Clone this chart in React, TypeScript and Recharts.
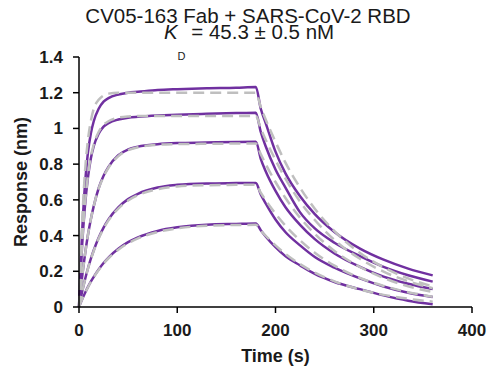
import { CartesianGrid, Label, Line, LineChart, XAxis, YAxis } from "recharts";

const PURPLE = "#7030a0";
const FIT_GRAY = "#bfbfbf";
const FONT = "'Liberation Sans', Arial, sans-serif";

// time points (s): association 0-180, dissociation 180-360
const times = [
  0, 3, 6, 9, 12, 15, 20, 25, 30, 40, 50, 60, 80, 100, 130, 160, 180,
  185, 190, 200, 210, 225, 240, 260, 286, 310, 335, 360,
];

// measured traces, highest to lowest concentration
const trace1 = [
  0, 0.4, 0.68, 0.86, 0.97, 1.04, 1.11, 1.15, 1.17, 1.19, 1.2, 1.205, 1.215, 1.22, 1.225, 1.228, 1.232,
  1.11, 1.03, 0.87, 0.75, 0.62, 0.52, 0.42, 0.327, 0.265, 0.215, 0.177,
];
const trace2 = [
  0, 0.33, 0.56, 0.72, 0.83, 0.9, 0.97, 1.01, 1.03, 1.05, 1.06, 1.065, 1.072, 1.077, 1.082, 1.086, 1.088,
  0.98, 0.9, 0.77, 0.67, 0.53, 0.44, 0.36, 0.285, 0.225, 0.178, 0.142,
];
const trace3 = [
  0, 0.16, 0.29, 0.4, 0.49, 0.565, 0.665, 0.735, 0.785, 0.85, 0.882, 0.898, 0.912, 0.918, 0.921, 0.924, 0.925,
  0.83, 0.76, 0.65, 0.56, 0.46, 0.38, 0.3, 0.225, 0.17, 0.13, 0.1,
];
const trace4 = [
  0, 0.081, 0.151, 0.214, 0.269, 0.318, 0.388, 0.445, 0.491, 0.558, 0.604, 0.634, 0.669, 0.684, 0.692, 0.694, 0.695,
  0.63, 0.58, 0.49, 0.42, 0.345, 0.28, 0.22, 0.16, 0.115, 0.08, 0.056,
];
const trace5 = [
  0, 0.041, 0.077, 0.111, 0.142, 0.169, 0.21, 0.246, 0.277, 0.326, 0.363, 0.39, 0.426, 0.446, 0.461, 0.465, 0.467,
  0.43, 0.395, 0.335, 0.285, 0.233, 0.185, 0.14, 0.1, 0.065, 0.035, 0.015,
];

// global 1:1 fits
const fit1 = [
  0, 0.45, 0.75, 0.93, 1.04, 1.11, 1.16, 1.185, 1.195, 1.2, 1.2, 1.2, 1.2, 1.2, 1.2, 1.2, 1.2,
  1.12, 1.05, 0.925, 0.81, 0.668, 0.55, 0.425, 0.303, 0.222, 0.16, 0.115,
];
const fit2 = [
  0, 0.34, 0.57, 0.73, 0.84, 0.91, 0.98, 1.02, 1.04, 1.06, 1.067, 1.069, 1.07, 1.07, 1.07, 1.07, 1.07,
  1.0, 0.937, 0.823, 0.72, 0.59, 0.487, 0.375, 0.27, 0.198, 0.144, 0.105,
];
const fit3 = [
  0, 0.16, 0.29, 0.4, 0.49, 0.565, 0.663, 0.73, 0.78, 0.845, 0.878, 0.895, 0.908, 0.912, 0.914, 0.915, 0.915,
  0.856, 0.8, 0.7, 0.612, 0.5, 0.41, 0.314, 0.224, 0.163, 0.116, 0.084,
];
const fit4 = [
  0, 0.08, 0.15, 0.212, 0.266, 0.314, 0.383, 0.439, 0.485, 0.551, 0.596, 0.626, 0.66, 0.675, 0.682, 0.684, 0.685,
  0.64, 0.598, 0.523, 0.456, 0.373, 0.304, 0.232, 0.163, 0.118, 0.083, 0.058,
];
const fit5 = [
  0, 0.04, 0.076, 0.109, 0.14, 0.167, 0.207, 0.243, 0.273, 0.321, 0.357, 0.384, 0.42, 0.44, 0.455, 0.459, 0.46,
  0.428, 0.399, 0.345, 0.298, 0.24, 0.193, 0.144, 0.098, 0.068, 0.046, 0.03,
];

const xTicks = [0, 100, 200, 300, 400];
const yTicks = [0, 0.2, 0.4, 0.6, 0.8, 1, 1.2, 1.4];

const traces = [trace1, trace2, trace3, trace4, trace5];
const fits = [fit1, fit2, fit3, fit4, fit5];

const data = times.map((t, i) => {
  const row: Record<string, number> = { t };
  traces.forEach((s, k) => (row[`r${k}`] = s[i]));
  fits.forEach((s, k) => (row[`f${k}`] = s[i]));
  return row;
});

const tickStyle = { fontFamily: FONT, fontSize: 17, fontWeight: 700, fill: "#1a1a1a" };
const axisTitleStyle = { fontFamily: FONT, fontSize: 18, fontWeight: 700, fill: "#1a1a1a", textAnchor: "middle" as const };

export default function App() {
  return (
    <div style={{ position: "absolute", left: 0, top: 0, width: 492, height: 370, background: "#fff" }}>
      <svg width={492} height={70} style={{ position: "absolute", left: 0, top: 0 }}>
        <text x={248} y={23} textAnchor="middle" fontFamily={FONT} fontSize={20.5} fill="#1a1a1a">
          CV05-163 Fab + SARS-CoV-2 RBD
        </text>
        <text x={249} y={39} textAnchor="middle" fontFamily={FONT} fontSize={20.5} fill="#1a1a1a">
          <tspan fontStyle="italic">K</tspan>
          <tspan fontSize={11} dy={21}>D</tspan>
          <tspan dy={-21}> = 45.3 ± 0.5 nM</tspan>
        </text>
      </svg>
      <LineChart
        width={492}
        height={370}
        data={data}
        margin={{ top: 57, right: 20, bottom: 33, left: 19 }}
        style={{ position: "absolute", left: 0, top: 0 }}
      >
        <CartesianGrid horizontal={false} vertical={false} />
        <XAxis
          dataKey="t"
          type="number"
          domain={[0, 400]}
          ticks={xTicks}
          height={30}
          tickSize={6}
          tickMargin={11}
          tick={tickStyle}
          axisLine={{ stroke: "#000", strokeWidth: 1.5 }}
          tickLine={{ stroke: "#000", strokeWidth: 1.5 }}
        >
          <Label value="Time (s)" position="bottom" offset={12} style={axisTitleStyle} />
        </XAxis>
        <YAxis
          type="number"
          domain={[0, 1.4]}
          ticks={yTicks}
          width={60}
          tickSize={6}
          tickMargin={10}
          tick={tickStyle}
          axisLine={{ stroke: "#000", strokeWidth: 1.5 }}
          tickLine={{ stroke: "#000", strokeWidth: 1.5 }}
        >
          <Label value="Response (nm)" angle={-90} position="insideLeft" offset={2} style={axisTitleStyle} />
        </YAxis>
        {traces.map((_, k) => (
          <Line
            key={`r${k}`}
            dataKey={`r${k}`}
            type="monotone"
            stroke={PURPLE}
            strokeWidth={2.5}
            dot={false}
            isAnimationActive={false}
          />
        ))}
        {fits.map((_, k) => (
          <Line
            key={`f${k}`}
            dataKey={`f${k}`}
            type="monotone"
            stroke={FIT_GRAY}
            strokeWidth={2.5}
            strokeDasharray="11 6"
            dot={false}
            isAnimationActive={false}
          />
        ))}
      </LineChart>
    </div>
  );
}
